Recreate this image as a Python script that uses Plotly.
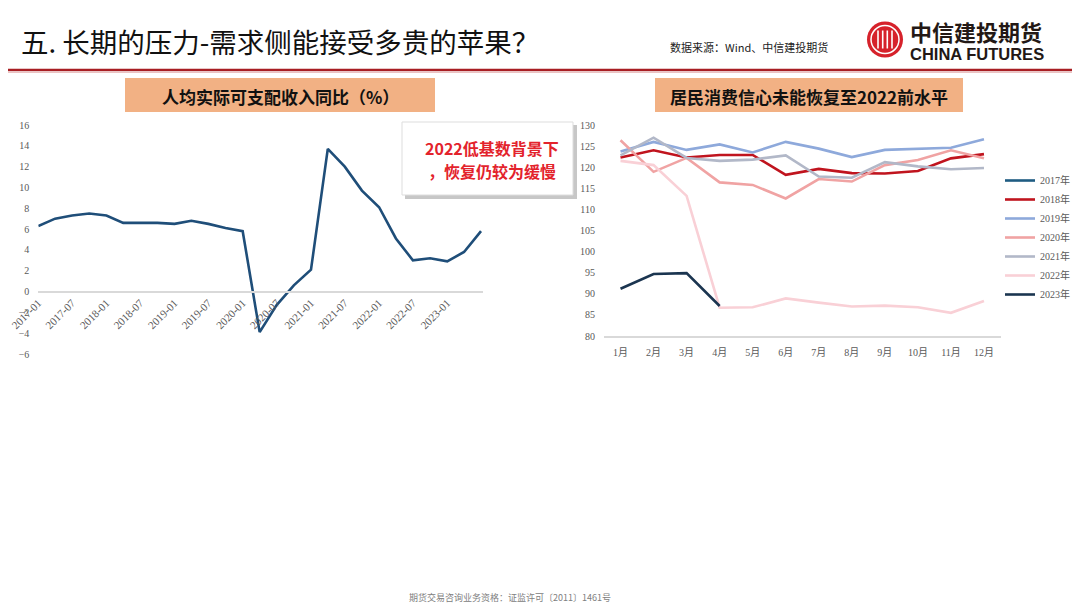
import plotly.graph_objects as go

# page is 1080x608; the html body keeps an 8px margin, so the figure is 1072x600
OX, OY = 8, 8
FW, FH = 1072, 600

def fx(x):
    return (x - OX) / FW

def fy(y):
    return 1 - (y - OY) / FH

# ---------------- data ----------------
income_dates = ['2017-01-01', '2017-04-01', '2017-07-01', '2017-10-01',
                '2018-01-01', '2018-04-01', '2018-07-01', '2018-10-01',
                '2019-01-01', '2019-04-01', '2019-07-01', '2019-10-01',
                '2020-01-01', '2020-04-01', '2020-07-01', '2020-10-01',
                '2021-01-01', '2021-04-01', '2021-07-01', '2021-10-01',
                '2022-01-01', '2022-04-01', '2022-07-01', '2022-10-01',
                '2023-01-01', '2023-04-01', '2023-07-01']
income_yoy = [6.3, 7.0, 7.3, 7.5, 7.3, 6.6, 6.6, 6.6, 6.5, 6.8, 6.5, 6.1,
              5.8, -3.9, -1.3, 0.6, 2.1, 13.7, 12.0, 9.7, 8.1, 5.1, 3.0,
              3.2, 2.9, 3.8, 5.8]
income_ticks = ['2017-01-01', '2017-07-01', '2018-01-01', '2018-07-01',
                '2019-01-01', '2019-07-01', '2020-01-01', '2020-07-01',
                '2021-01-01', '2021-07-01', '2022-01-01', '2022-07-01',
                '2023-01-01']
income_yticks = [-6, -4, -2, 0, 2, 4, 6, 8, 10, 12, 14, 16]

months = ['1月', '2月', '3月', '4月', '5月', '6月', '7月', '8月', '9月',
          '10月', '11月', '12月']
conf_2017 = []
conf_2018 = [122.3, 124.0, 122.3, 122.9, 122.9, 118.2, 119.6, 118.6, 118.5,
             119.1, 122.1, 123.1]
conf_2019 = [123.7, 126.0, 124.1, 125.4, 123.5, 126.0, 124.4, 122.4, 124.1,
             124.3, 124.6, 126.6]
conf_2020 = [126.4, 118.9, 122.2, 116.4, 115.8, 112.6, 117.2, 116.6, 120.5,
             121.7, 124.0, 122.1]
conf_2021 = [122.8, 127.0, 122.2, 121.5, 121.8, 122.8, 117.8, 117.5, 121.2,
             120.2, 119.5, 119.8]
conf_2022 = [121.5, 120.5, 113.2, 86.7, 86.8, 88.9, 87.9, 87.0, 87.2, 86.8,
             85.5, 88.3]
conf_2023 = [91.2, 94.7, 94.9, 87.1]
conf_names = ['2017年', '2018年', '2019年', '2020年', '2021年', '2022年', '2023年']
conf_colors = ['#1F5C82', '#C0141E', '#8EA9DB', '#F0A3A3', '#B2B8C8', '#F9D0D6', '#1B3550']

SERIF = 'Liberation Serif, Times New Roman, Noto Sans CJK SC, serif'
CJK = 'Noto Sans CJK SC, sans-serif'
GRAY = '#595959'

fig = go.Figure()

# left chart
fig.add_trace(go.Scatter(x=income_dates, y=income_yoy, mode='lines',
                         line=dict(color='#1F4E79', width=2.6),
                         xaxis='x', yaxis='y', showlegend=False))

# right chart
series = [conf_2017, conf_2018, conf_2019, conf_2020, conf_2021, conf_2022, conf_2023]
for name, vals, col in zip(conf_names, series, conf_colors):
    fig.add_trace(go.Scatter(x=months[:len(vals)] if vals else [None],
                             y=vals if vals else [None], mode='lines', name=name,
                             line=dict(color=col, width=2.6),
                             xaxis='x2', yaxis='y2'))

ly_dom = [fy(354), fy(125)]
ly_rng = [-6, 16]
zero_pos = ly_dom[0] + (0 - ly_rng[0]) / (ly_rng[1] - ly_rng[0]) * (ly_dom[1] - ly_dom[0])

fig.update_layout(
    width=FW, height=FH,
    margin=dict(l=0, r=0, t=0, b=0, pad=0, autoexpand=False),
    paper_bgcolor='white', plot_bgcolor='rgba(0,0,0,0)',
    xaxis=dict(domain=[fx(38.3), fx(482.7)], range=['2017-01-01', '2023-07-10'],
               anchor='free', position=zero_pos, automargin=False,
               tickvals=income_ticks, tickformat='%Y-%m', tickangle=-45,
               showline=True, linecolor='#D9D9D9', linewidth=1.5,
               showgrid=False, zeroline=False, ticks='',
               tickfont=dict(family=SERIF, size=11, color=GRAY)),
    yaxis=dict(domain=ly_dom, range=ly_rng, anchor='x', automargin=False,
               tickvals=income_yticks, showgrid=False, zeroline=False,
               showline=False, ticks='', ticklabelstandoff=8,
               tickfont=dict(family=SERIF, size=10, color=GRAY)),
    xaxis2=dict(domain=[fx(604), fx(1000.5)], range=[-0.5, 11.5], anchor='y2',
                type='category', categoryorder='array', categoryarray=months,
                automargin=False,
                showline=True, linecolor='#D9D9D9', linewidth=1.5,
                showgrid=False, zeroline=False, ticks='', ticklabelstandoff=6,
                tickfont=dict(family=SERIF, size=10, color=GRAY)),
    yaxis2=dict(domain=[fy(336), fy(125)], range=[80, 130], anchor='x2',
                automargin=False,
                dtick=5, tick0=80, showgrid=False, zeroline=False,
                showline=False, ticks='', ticklabelstandoff=8,
                tickfont=dict(family=SERIF, size=10, color=GRAY)),
    legend=dict(x=fx(1000), y=fy(166), xanchor='left', yanchor='top',
                font=dict(family=SERIF, size=10, color=GRAY),
                itemwidth=30, bgcolor='rgba(0,0,0,0)', tracegroupgap=0),
)

shapes = []
annotations = []

# header line
shapes.append(dict(type='line', xref='paper', yref='paper', x0=0, x1=1,
                   y0=fy(70), y1=fy(70), line=dict(color='#A81E23', width=2.5)))
shapes.append(dict(type='line', xref='paper', yref='paper', x0=0, x1=1,
                   y0=fy(72.5), y1=fy(72.5), line=dict(color='#EBC2C2', width=1)))

# logo
cx, cy, r = 885, 39.5, 18
shapes.append(dict(type='circle', xref='paper', yref='paper',
                   x0=fx(cx - r), x1=fx(cx + r), y0=fy(cy + r), y1=fy(cy - r),
                   fillcolor='#D6222B', line=dict(width=0)))
r2 = 14
shapes.append(dict(type='circle', xref='paper', yref='paper',
                   x0=fx(cx - r2), x1=fx(cx + r2), y0=fy(cy + r2), y1=fy(cy - r2),
                   fillcolor='rgba(0,0,0,0)', line=dict(color='white', width=1.5)))
for dx in (-7, -2.3, 2.3, 7):
    shapes.append(dict(type='line', xref='paper', yref='paper',
                       x0=fx(cx + dx), x1=fx(cx + dx), y0=fy(cy - 9), y1=fy(cy + 9),
                       line=dict(color='white', width=1.6)))

annotations.append(dict(x=fx(908), y=fy(31), xref='paper', yref='paper',
                        xanchor='left', yanchor='middle', showarrow=False, align='left',
                        text='<b>中信建投期货</b>',
                        font=dict(family=CJK, size=22, color='#231815')))
annotations.append(dict(x=fx(908), y=fy(54), xref='paper', yref='paper',
                        xanchor='left', yanchor='middle', showarrow=False, align='left',
                        text='<b>CHINA FUTURES</b>',
                        font=dict(family='Liberation Sans, Arial, sans-serif', size=16.5,
                                  color='#231815')))

# title
annotations.append(dict(x=fx(19), y=fy(41), xref='paper', yref='paper',
                        xanchor='left', yanchor='middle', showarrow=False, align='left',
                        text='五. 长期的压力-需求侧能接受多贵的苹果？',
                        font=dict(family=CJK, size=27.5, color='#111111')))
annotations.append(dict(x=fx(668), y=fy(47), xref='paper', yref='paper',
                        xanchor='left', yanchor='middle', showarrow=False, align='left',
                        text='数据来源：Wind、中信建投期货',
                        font=dict(family=CJK, size=11, color='#222222')))

# chart title boxes
for (x0, x1, txt) in [(125, 435, '人均实际可支配收入同比（%）'),
                      (655, 963, '居民消费信心未能恢复至2022前水平')]:
    shapes.append(dict(type='rect', xref='paper', yref='paper',
                       x0=fx(x0), x1=fx(x1), y0=fy(112), y1=fy(78),
                       fillcolor='#F2B184', line=dict(width=0), layer='below'))
    annotations.append(dict(x=fx((x0 + x1) / 2), y=fy(96), xref='paper', yref='paper',
                            xanchor='center', yanchor='middle', showarrow=False,
                            text='<b>' + txt + '</b>',
                            font=dict(family=CJK, size=17, color='#111111')))

# callout box
shapes.append(dict(type='rect', xref='paper', yref='paper',
                   x0=fx(405), x1=fx(577), y0=fy(199), y1=fy(125),
                   fillcolor='rgba(0,0,0,0.22)', line=dict(width=0)))
shapes.append(dict(type='rect', xref='paper', yref='paper',
                   x0=fx(402), x1=fx(573), y0=fy(195), y1=fy(122),
                   fillcolor='white', line=dict(color='#DDDDDD', width=1)))
annotations.append(dict(x=fx(492), y=fy(148), xref='paper', yref='paper',
                        xanchor='center', yanchor='middle', showarrow=False,
                        text='<b>2022低基数背景下</b>',
                        font=dict(family=CJK, size=16, color='#E3232C')))
annotations.append(dict(x=fx(492), y=fy(171), xref='paper', yref='paper',
                        xanchor='center', yanchor='middle', showarrow=False,
                        text='<b>，恢复仍较为缓慢</b>',
                        font=dict(family=CJK, size=16, color='#E3232C')))

# footer
annotations.append(dict(x=fx(510), y=fy(597), xref='paper', yref='paper',
                        xanchor='center', yanchor='middle', showarrow=False,
                        text='期货交易咨询业务资格：证监许可〔2011〕1461号',
                        font=dict(family=CJK, size=9, color='#808080')))

fig.update_layout(shapes=shapes, annotations=annotations)
fig.write_html('out.html')
